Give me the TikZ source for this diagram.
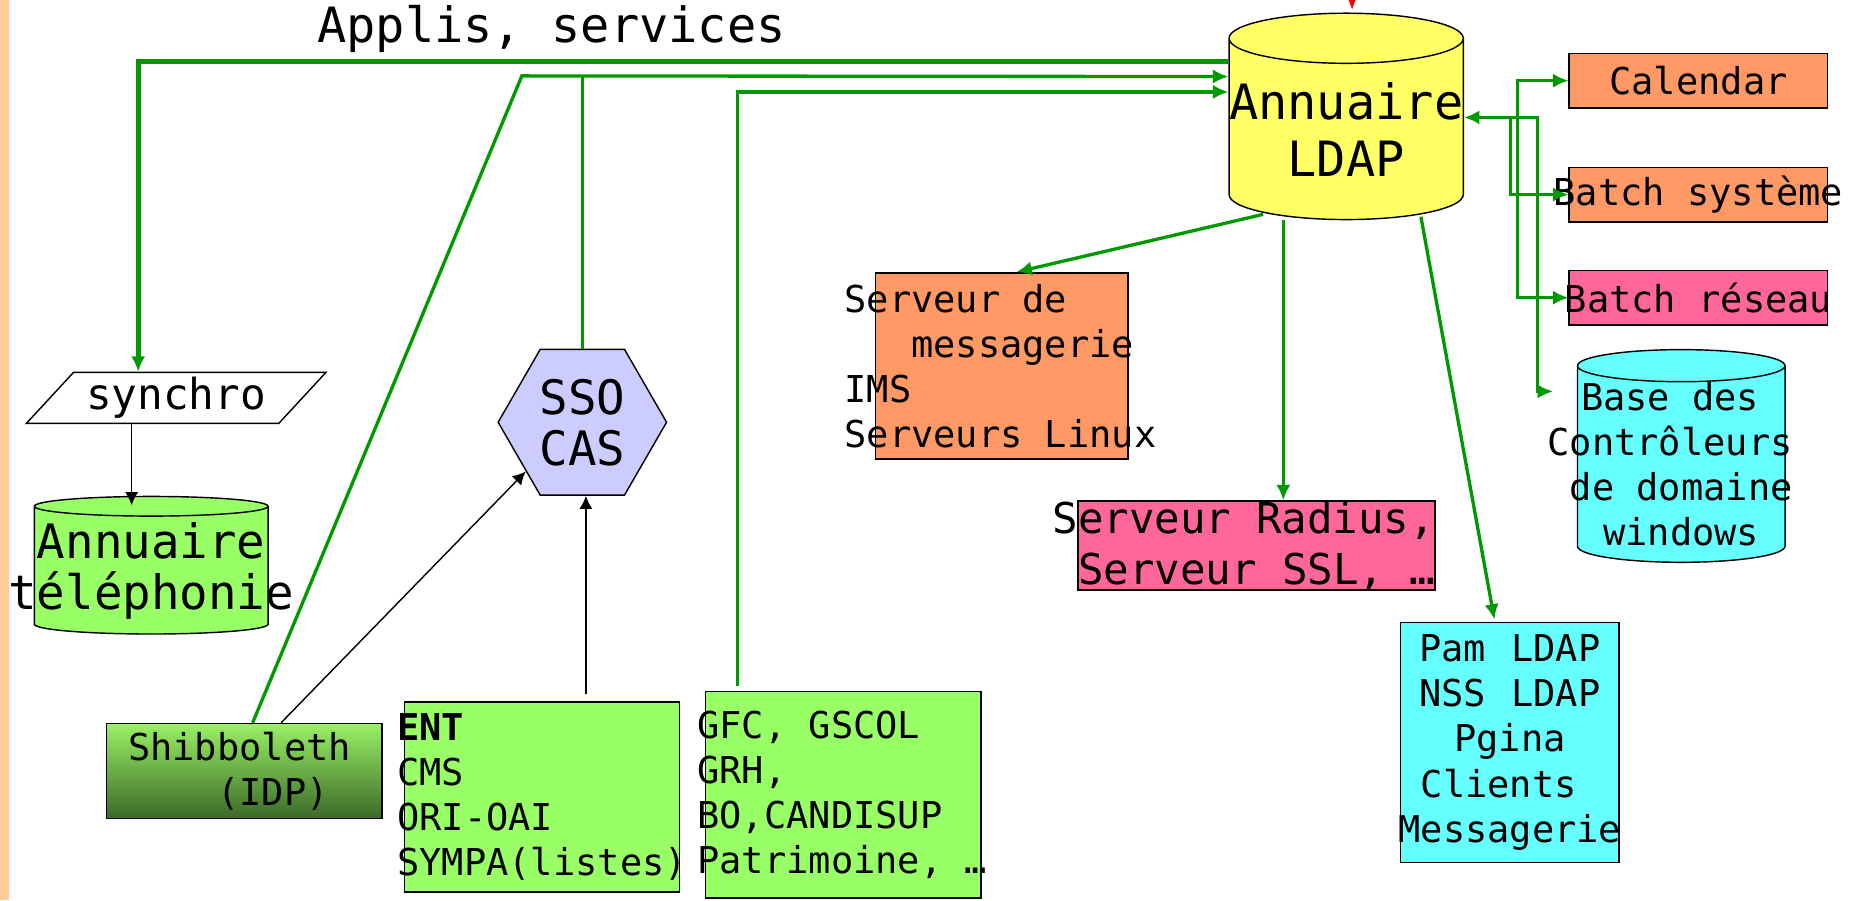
\documentclass[tikz,border=0pt]{standalone}
\usepackage{fontspec}
\setmainfont{DejaVu Sans Mono}
\usepackage{tikz}
\usetikzlibrary{arrows.meta,calc,positioning,shapes.geometric}
\definecolor{stripe}{HTML}{FFCC99}
\definecolor{ldapyellow}{HTML}{FFFF66}
\definecolor{srvorange}{HTML}{FF9966}
\definecolor{srvpink}{HTML}{FF6699}
\definecolor{clientcyan}{HTML}{66FFFF}
\definecolor{appgreen}{HTML}{99FF66}
\definecolor{ssoblue}{HTML}{CCCCFF}
\definecolor{linkgreen}{HTML}{009900}
\definecolor{shibtop}{HTML}{99F066}
\definecolor{shibbottom}{HTML}{3C6A28}

\begin{document}
\begin{tikzpicture}[
    x=0.5pt, y=-0.5pt,
    every node/.style={execute at begin node={\spaceskip=0pt\xspaceskip=0pt}},
    nosep/.style={inner sep=0},
    small/.style={font=\fontsize{15.6}{19}\selectfont},
    large/.style={font=\fontsize{20.5}{24}\selectfont},
    box/.style={rectangle, draw, line width=0.6pt, nosep, small},
    db/.style={cylinder, shape border rotate=90, draw, line width=0.6pt, nosep, align=center},
    link/.style={draw=linkgreen, line width=1.4pt},
    bus/.style={draw=linkgreen, line width=2.1pt},
    gtip/.style={-{Latex[length=6.5pt,width=6pt]}},
    gboth/.style={{Latex[length=6.5pt,width=6pt]}-{Latex[length=6.5pt,width=6pt]}},
    btip/.style={-{Latex[length=5.5pt,width=5.5pt]}},
    feed/.style={draw, line width=0.6pt, btip}]

\useasboundingbox (0,0) rectangle (1564,759);
\fill[stripe] (0,0) rectangle (8,759);

\node[large] (applis) at (465,24) {Applis, services};

\node[db, fill=ldapyellow, aspect=0.214, minimum width=98pt, minimum height=87pt, large] (ldap) at (1135,109) {Annuaire\\LDAP};

\node[box, fill=srvorange, minimum width=109pt, minimum height=23pt] (calendar) at (1432,68) {Calendar};
\node[box, fill=srvorange, minimum width=109pt, minimum height=23pt] (batchsys) at (1432,164) {\makebox[0pt]{Batch système}};
\node[box, fill=srvpink, minimum width=109pt, minimum height=23pt] (batchres) at (1432,251) {\makebox[0pt]{Batch réseau}};

\node[db, fill=clientcyan, aspect=0.16, minimum width=87.5pt, minimum height=86.5pt, small] (ctrl) at (1417.5,391.5) {Base des\hphantom{x}\\\makebox[0pt]{Contrôleurs\hphantom{x}}\\\makebox[0pt]{de domaine}\\windows};

\node[box, fill=srvorange, minimum width=106.5pt, minimum height=78.5pt, text width=132.5pt, inner xsep=-13pt, align=left] (mail) at (844.5,308.5) {Serveur de\\\hphantom{xxx}messagerie\\IMS\\Serveurs Linux};

\node[box, fill=srvpink, minimum width=150.5pt, minimum height=37pt, text width=150.5pt, align=left, font=\fontsize{17.9}{21.5}\selectfont] (radius) at (1059.5,460) {\llap{S}erveur Radius,\\Serveur SSL, …};

\node[box, fill=clientcyan, minimum width=92pt, minimum height=101pt, text width=94pt, inner xsep=-1pt, align=center] (pam) at (1273,626) {Pam LDAP\\NSS LDAP\\Pgina\\Clients\hphantom{x}\\Messagerie};

\node[trapezium, trapezium left angle=45, trapezium right angle=135, trapezium stretches=true, draw, line width=0.6pt, fill=white, nosep, minimum width=126.5pt, minimum height=21.5pt, font=\fontsize{18}{21}\selectfont] (synchro) at (148.5,335.5) {synchro};

\node[db, fill=appgreen, aspect=0.086, minimum width=98.5pt, minimum height=58pt, font=\fontsize{20}{21.5}\selectfont] (phone) at (127.5,481) {Annuaire\\\makebox[0pt]{téléphonie}};

\node[regular polygon, regular polygon sides=6, draw, line width=0.6pt, fill=ssoblue, minimum size=71pt, nosep, align=center, font=\fontsize{20}{21.5}\selectfont] (sso) at (491,356) {SSO\\CAS};

\node[box, top color=shibtop, bottom color=shibbottom, minimum width=116pt, minimum height=40pt, text width=98pt, inner xsep=9pt, align=left] (shib) at (206,650) {Shibboleth\\\hphantom{xxxx}(IDP)};

\node[box, fill=appgreen, minimum width=116pt, minimum height=80pt, text width=122pt, inner xsep=-3pt, align=left] (ent) at (457,672) {\textbf{ENT}\\CMS\\ORI-OAI\\SYMPA(listes)};

\node[box, fill=appgreen, minimum width=116pt, minimum height=87pt, text width=123pt, inner xsep=-3.5pt, align=left] (gestion) at (711,670) {GFC, GSCOL\\GRH,\\BO,CANDISUP\\Patrimoine, …};

\coordinate (shibbend) at (440,64);
\coordinate (ldaphub) at ([yshift=5pt]ldap.east);

\path[bus, gtip] ($(ldap.north -| ldap.west)+(0,-20.5pt)$) -| ([xshift=-16pt]synchro.north);
\path[link, gtip] ([xshift=3.5pt]shib.north) -- (shibbend) -- ($(ldap.north -| ldap.west)+(0,-27pt)$);
\path[link] (sso.north) -- (sso.north |- shibbend);
\path[link, gtip] ([xshift=-44.5pt,yshift=2pt]gestion.north) |- ($(ldap.north -| ldap.west)+(0,-33.5pt)$);

\path[link, gtip] ($(ldap.south)+(-35pt,2.5pt)$) -- ([xshift=6.25pt]mail.north);
\path[link, gtip] ([xshift=-26.5pt]ldap.south) -- ($(ldap.south |- radius.north)+(-26.5pt,0)$);
\path[link, gtip] ($(ldap.south)+(31.5pt,1.5pt)$) -- ([xshift=-6.5pt,yshift=1pt]pam.north);

\path[link, gboth] (ldaphub) -- ++(31pt,0) |- ([xshift=-10pt,yshift=30.75pt]ctrl.west);
\path[link, gtip] ([xshift=19.5pt]ldaphub) |- (batchsys.west);
\path[link, gboth] (calendar.west) -- ++(-21.5pt,0) |- (batchres.west);

\path[draw=red, line width=1pt, -{Latex[length=7pt,width=6pt]}] ([xshift=2.5pt,yshift=14pt]ldap.north) -- ([xshift=2.5pt,yshift=1pt]ldap.north);

\path[feed] ($(synchro.south)+(-18.75pt,0)$) -- ($(synchro.south |- phone.north)+(-18.75pt,-4pt)$);
\path[feed] ([xshift=15.5pt]shib.north) -- (sso.221);
\path[feed] ($(ent.north)+(18.5pt,3pt)$) -- ($(ent.north |- sso.south)+(18.5pt,0)$);

\end{tikzpicture}
\end{document}
